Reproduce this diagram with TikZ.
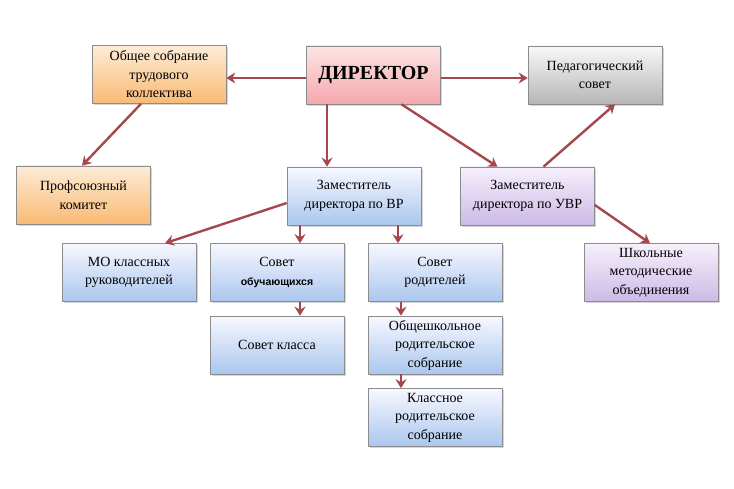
\documentclass[tikz,border=0pt]{standalone}
\usepackage{fontspec}
\setmainfont{Liberation Serif}
\newfontfamily\timesfont{Liberation Serif}
\newfontfamily\arialfont{Liberation Sans}
\usetikzlibrary{arrows.meta,shadows,calc}
\definecolor{arr}{HTML}{A5474C}
\definecolor{bord}{HTML}{8C8C8C}
\tikzset{
  box/.style={draw=bord, line width=0.6pt, minimum width=134pt, minimum height=58pt,
    align=center, font=\timesfont\fontsize{14}{18.5}\selectfont, inner sep=2pt,
    drop shadow={shadow xshift=1.8pt, shadow yshift=-1.8pt, fill=black!40, opacity=0.4}},
  bluebox/.style={box, top color=blue!3!white, bottom color={rgb,255:red,170;green,199;blue,238}},
  orangebox/.style={box, top color={rgb,255:red,253;green,236;blue,214}, bottom color={rgb,255:red,249;green,186;blue,116}},
  pinkbox/.style={box, top color={rgb,255:red,253;green,228;blue,228}, bottom color={rgb,255:red,244;green,168;blue,172}},
  graybox/.style={box, top color={rgb,255:red,248;green,248;blue,248}, bottom color={rgb,255:red,182;green,182;blue,182}},
  purplebox/.style={box, top color={rgb,255:red,246;green,240;blue,252}, bottom color={rgb,255:red,204;green,186;blue,230}},
  conn/.style={draw=arr, line width=2.4pt, -{Stealth[length=9pt,width=11pt,inset=3pt]}}
}
\begin{document}
\begin{tikzpicture}[x=1pt,y=-1pt]
\useasboundingbox[fill=white] (0,0) rectangle (734,489);
\node[orangebox] (sobr) at (159,74.5) {Общее собрание\\трудового\\коллектива};
\node[pinkbox, font=\timesfont\fontsize{20}{22}\bfseries\selectfont] (dir) at (373.5,75) {ДИРЕКТОР};
\node[graybox] (ped) at (595,75) {Педагогический\\совет};
\node[orangebox] (prof) at (83.5,195) {Профсоюзный\\комитет};
\node[bluebox] (vr) at (354,196) {Заместитель\\директора по ВР};
\node[purplebox] (uvr) at (527.5,196) {Заместитель\\директора по УВР};
\node[bluebox] (mo) at (129,272.5) {МО классных\\руководителей};
\node[bluebox] (sovob) at (277,272.5) {Совет\\{\arialfont\bfseries\fontsize{10.5}{18.5}\selectfont обучающихся}};
\node[bluebox] (sovrod) at (435,272.5) {Совет\\родителей};
\node[purplebox] (shk) at (651,272.5) {Школьные\\методические\\объединения};
\node[bluebox] (sovkl) at (277,345) {Совет класса};
\node[bluebox] (obsh) at (435,345) {Общешкольное\\родительское\\собрание};
\node[bluebox] (kl) at (435,417.5) {Классное\\родительское\\собрание};

\draw[conn] ($(dir.west)+(0,3)$) -- ($(sobr.east)+(0,3.5)$);
\draw[conn] ($(dir.east)+(0,3)$) -- ($(ped.west)+(0,3)$);
\draw[conn] ($(dir.south)+(-46.5,0)$) -- ($(vr.north)+(-27,0)$);
\draw[conn] ($(dir.south)+(28,0)$) -- ($(uvr.north)+(-30,0)$);
\draw[conn] ($(sobr.south)+(-18,0)$) -- ($(prof.north)+(-1.5,0)$);
\draw[conn] ($(uvr.north)+(16,0)$) -- ($(ped.south)+(20,0)$);
\draw[conn] ($(vr.west)+(0,7)$) -- ($(mo.north)+(36,0)$);
\draw[conn] ($(vr.south)+(-54,0)$) -- ($(sovob.north)+(23,0)$);
\draw[conn] ($(vr.south)+(44,0)$) -- ($(sovrod.north)+(-37,0)$);
\draw[conn] ($(sovob.south)+(23,0)$) -- ($(sovkl.north)+(23,0)$);
\draw[conn] ($(sovrod.south)+(-34,0)$) -- ($(obsh.north)+(-34,0)$);
\draw[conn] ($(obsh.south)+(-34,0)$) -- ($(kl.north)+(-34,0)$);
\draw[conn] ($(uvr.east)+(0,9)$) -- ($(shk.north)+(-1,0)$);
\end{tikzpicture}
\end{document}
